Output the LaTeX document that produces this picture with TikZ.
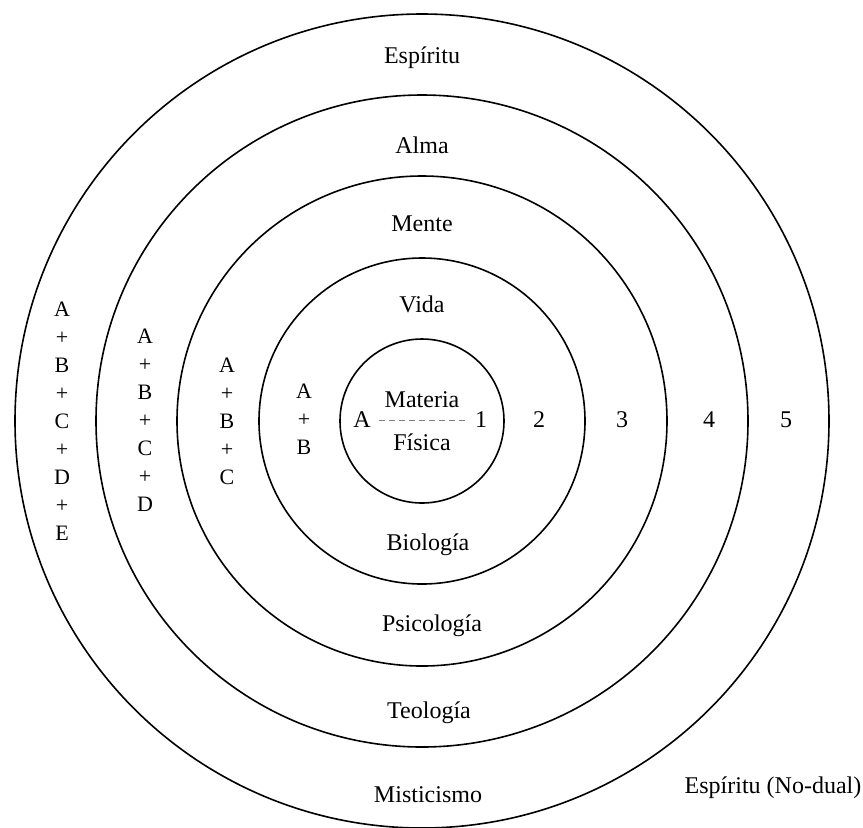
\documentclass[tikz,border=0pt]{standalone}
\usepackage{fontspec}
\setmainfont{Liberation Serif}
\tikzset{
  ring/.style={draw, line width=0.8pt},
  lbl/.style={font=\fontsize{12}{14}\selectfont, inner sep=1pt},
  stack/.style={align=center, font=\fontsize{11}{14}\selectfont, inner sep=1pt},
}
\begin{document}
\begin{tikzpicture}[x=0.5pt,y=-0.5pt]
\useasboundingbox (0,0) rectangle (863,827);
\coordinate (o) at (422,421);
\draw[ring] (o) circle (41pt);
\draw[ring] (o) circle (81.5pt);
\draw[ring] (o) circle (122.5pt);
\draw[ring] (o) circle (163pt);
\draw[ring] (o) circle (203.5pt);

\node[lbl] (espiritu) at (422,58) {Espíritu};
\node[lbl] (alma) at (422,145) {Alma};
\node[lbl] (mente) at (422,224) {Mente};
\node[lbl] (vida) at (422,304) {Vida};
\node[lbl] (materia) at (422,400) {Materia};
\node[lbl] (fisica) at (422,442) {Física};
\node[lbl] (biologia) at (428,545) {Biología};
\node[lbl] (psicologia) at (432,626) {Psicología};
\node[lbl] (teologia) at (429,713) {Teología};
\node[lbl] (misticismo) at (428,795) {Misticismo};
\node[lbl] (nodual) at (773,788) {Espíritu (No-dual)};

\node[lbl] (mA) at (362,420) {A};
\node[lbl] (n1) at (481,420) {1};
\node[lbl] (n2) at (539,420) {2};
\node[lbl] (n3) at (622,420) {3};
\node[lbl] (n4) at (709,420) {4};
\node[lbl] (n5) at (786,420) {5};
\draw[gray, densely dashed, shorten <=3pt, shorten >=3pt] (mA) -- (n1);

\node[stack] (sum5) at (62,421) {A\\+\\B\\+\\C\\+\\D\\+\\E};
\node[stack] (sum4) at (145,420) {A\\+\\B\\+\\C\\+\\D};
\node[stack] (sum3) at (227,421) {A\\+\\B\\+\\C};
\node[stack] (sum2) at (304,419) {A\\+\\B};
\end{tikzpicture}
\end{document}
